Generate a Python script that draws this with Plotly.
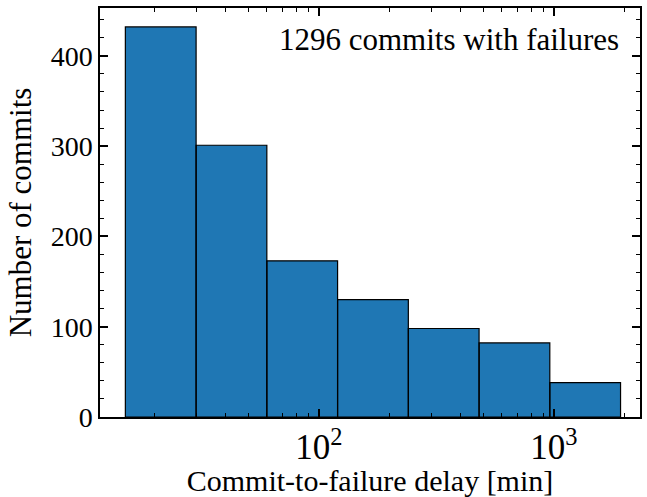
import math
import plotly.graph_objects as go

# Data
bin_edges = [15, 30, 60, 120, 240, 480, 960, 1920]
counts = [432, 301, 173, 130, 98, 82, 38]
annotation_text = "1296 commits with failures"
x_title = "Commit-to-failure delay [min]"
y_title = "Number of commits"

FONT = "Liberation Serif"
FS_TICK = 28
FS_TEXT = 31

xs, ys = [], []
for i, c in enumerate(counts):
    a, b = bin_edges[i], bin_edges[i + 1]
    xs += [a, a, b, b, a, None]
    ys += [0, c, c, 0, 0, None]

fig = go.Figure()
fig.add_trace(go.Scatter(
    x=xs, y=ys, mode="lines", fill="toself",
    fillcolor="#1f77b4", line=dict(color="black", width=1.2),
    hoverinfo="skip", showlegend=False,
))

fig.update_layout(
    width=647, height=497,
    margin=dict(l=100, r=7, t=8, b=80),
    paper_bgcolor="white", plot_bgcolor="white",
    font=dict(family=FONT, size=FS_TICK, color="black"),
    xaxis=dict(
        type="log", range=[math.log10(11.7), math.log10(2323)],
        tickmode="linear", tick0=0, dtick=1, exponentformat="power",
        ticks="inside", ticklen=8, tickwidth=1.5, tickcolor="black",
        showline=True, linecolor="black", linewidth=1.5, mirror="allticks",
        showgrid=False, zeroline=False, automargin=False, layer="above traces",
        minor=dict(dtick="D1", ticks="inside",
                   ticklen=4, tickwidth=1.2, tickcolor="black", showgrid=False),
        title=dict(text=x_title, standoff=9, font=dict(family=FONT, size=30)),
        tickfont=dict(family=FONT, size=FS_TICK),
    ),
    yaxis=dict(
        range=[0, 453],
        tickmode="linear", tick0=0, dtick=100,
        ticks="inside", ticklen=8, tickwidth=1.5, tickcolor="black",
        showline=True, linecolor="black", linewidth=1.5, mirror="allticks",
        showgrid=False, zeroline=False, automargin=False, layer="above traces",
        minor=dict(dtick=20, ticks="inside",
                   ticklen=4, tickwidth=1.2, tickcolor="black", showgrid=False),
        title=dict(text=y_title, standoff=10, font=dict(family=FONT, size=FS_TEXT)),
        tickfont=dict(family=FONT, size=FS_TICK),
    ),
    annotations=[dict(
        text=annotation_text, xref="paper", yref="paper",
        x=0.965, y=0.97, xanchor="right", yanchor="top", showarrow=False,
        font=dict(family=FONT, size=FS_TEXT),
    )],
)

fig.write_html("out.html", config={"displayModeBar": False},
               post_script="document.body.style.margin='0';document.body.style.padding='0';")
